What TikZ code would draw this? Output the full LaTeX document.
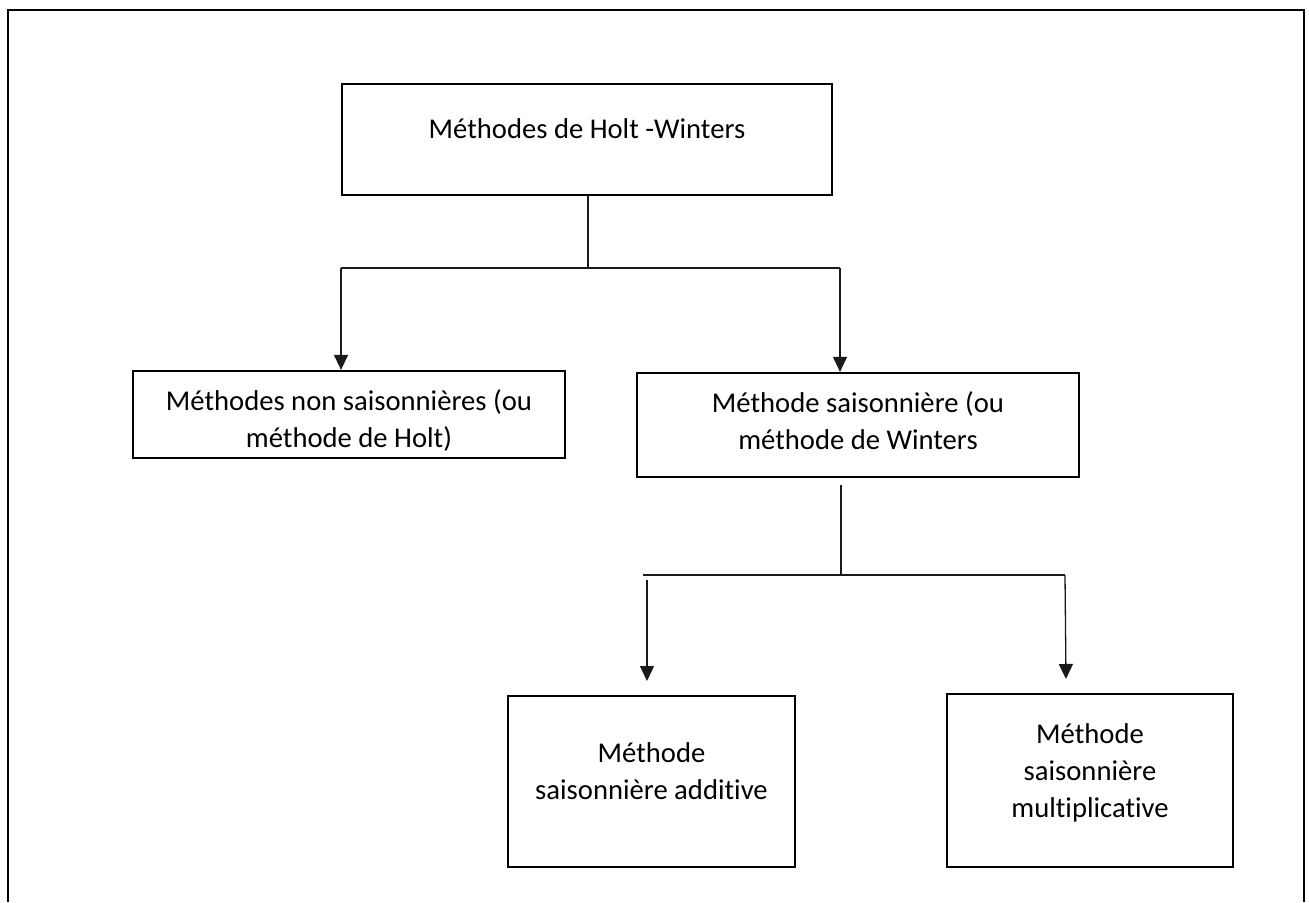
\documentclass[tikz,border=0pt]{standalone}
\usepackage{fontspec}
\setmainfont{Carlito}[Ligatures=NoCommon]
\usepackage{xcolor}
\definecolor{edge}{HTML}{000000}
\definecolor{wire}{HTML}{1A1A1A}
\usepackage{tikz}
\usetikzlibrary{arrows.meta}

\begin{document}
\begin{tikzpicture}[
  font=\fontsize{16.3}{21.0}\selectfont,
  box/.style={draw=edge,line width=0.045cm,align=center,inner xsep=0pt,inner ysep=0pt},
  wirel/.style={wire,line width=0.026cm},
  arr/.style={wirel,-{Triangle[length=0.3cm,width=0.28cm]}}]
\useasboundingbox (0,0) rectangle (26.18,-18.04);
% outer frame (open at the bottom)
\draw[edge,line width=0.04cm] (0.16,-18.04) -- (0.16,-0.2) -- (26.08,-0.2) -- (26.08,-18.04);

\node[box,minimum width=9.8cm,text height=1.08cm,text depth=1.14cm] (hw) at (11.74,-2.79)
  {Méthodes de Holt -Winters};
\node[box,minimum width=8.64cm,text height=1.52cm,text depth=0.22cm] (nonsais) at (6.98,-8.29)
  {Méthodes non saisonnières (ou\\méthode de Holt)};
\node[box,minimum width=8.84cm,text height=1.52cm,text depth=0.56cm] (sais) at (17.16,-8.5)
  {Méthode saisonnière (ou\\méthode de Winters};
\node[box,minimum width=5.74cm,text height=2.06cm,text depth=1.36cm] (add) at (13.03,-15.63)
  {Méthode\\saisonnière additive};
\node[box,minimum width=5.72cm,text height=2.46cm,text depth=1.0cm] (mult) at (21.8,-15.61)
  {Méthode\\saisonnière\\multiplicative};

% first level
\coordinate (j1) at (11.76,-5.36);
\coordinate (j1l) at (6.82,-5.36);
\coordinate (j1r) at (16.8,-5.36);
\draw[wirel] (hw.south -| j1) -- (j1);
\draw[wirel] (j1l) -- (j1r);
\draw[arr] (j1l) -- (j1l |- nonsais.north);
\draw[arr] (j1r) -- (j1r |- sais.north);

% second level
\coordinate (j2t) at (16.82,-9.7);
\coordinate (j2) at (16.82,-11.5);
\coordinate (j2l) at (12.86,-11.5);
\coordinate (j2r) at (21.3,-11.5);
\coordinate (a2l) at (12.94,-13.62);
\coordinate (a2r) at (21.32,-13.58);
\draw[wirel] (j2t) -- (j2);
\draw[wirel] (j2l) -- (j2r);
\draw[arr] (a2l |- 0,-11.6) -- (a2l);
\draw[arr] (j2r) -- (a2r);
\end{tikzpicture}
\end{document}
